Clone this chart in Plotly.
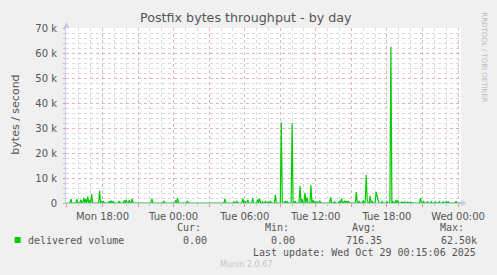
import pandas as pd
import plotly.graph_objects as go

# ---------------- data ----------------
range_start = "2025-10-27 14:55"
range_end = "2025-10-29 00:15"

spike_times = [
    "2025-10-27 15:20", "2025-10-27 15:50", "2025-10-27 16:10", "2025-10-27 16:25",
    "2025-10-27 16:35", "2025-10-27 16:45", "2025-10-27 16:55", "2025-10-27 17:05",
    "2025-10-27 17:45", "2025-10-27 17:55", "2025-10-27 18:05", "2025-10-27 18:35",
    "2025-10-27 18:45", "2025-10-27 18:55", "2025-10-27 19:25", "2025-10-27 19:50",
    "2025-10-27 20:00", "2025-10-27 20:15", "2025-10-27 20:30", "2025-10-27 22:10",
    "2025-10-27 23:10", "2025-10-28 00:10", "2025-10-28 00:20", "2025-10-28 01:10",
    "2025-10-28 04:20", "2025-10-28 05:05", "2025-10-28 05:20", "2025-10-28 05:50",
    "2025-10-28 06:00", "2025-10-28 06:15", "2025-10-28 06:40", "2025-10-28 07:05",
    "2025-10-28 07:15", "2025-10-28 07:30", "2025-10-28 07:45", "2025-10-28 08:00",
    "2025-10-28 08:10", "2025-10-28 08:35", "2025-10-28 09:05", "2025-10-28 09:25",
    "2025-10-28 09:35", "2025-10-28 10:00", "2025-10-28 10:15", "2025-10-28 10:40",
    "2025-10-28 10:50", "2025-10-28 11:05", "2025-10-28 11:15", "2025-10-28 11:35",
    "2025-10-28 11:45", "2025-10-28 11:55", "2025-10-28 12:05", "2025-10-28 12:20",
    "2025-10-28 13:15", "2025-10-28 13:35", "2025-10-28 14:00", "2025-10-28 14:10",
    "2025-10-28 14:25", "2025-10-28 14:35", "2025-10-28 14:45", "2025-10-28 15:25",
    "2025-10-28 15:40", "2025-10-28 16:00", "2025-10-28 16:15", "2025-10-28 16:20",
    "2025-10-28 16:35", "2025-10-28 16:45", "2025-10-28 17:05", "2025-10-28 17:10",
    "2025-10-28 17:15", "2025-10-28 17:35", "2025-10-28 18:00", "2025-10-28 18:20",
    "2025-10-28 18:30", "2025-10-28 18:45", "2025-10-28 18:55", "2025-10-28 19:15",
    "2025-10-28 19:30", "2025-10-28 19:45", "2025-10-28 20:00", "2025-10-28 20:50",
    "2025-10-28 21:05", "2025-10-28 21:25", "2025-10-28 21:45", "2025-10-28 22:05",
    "2025-10-28 22:25", "2025-10-28 22:45", "2025-10-28 23:00", "2025-10-28 23:10",
    "2025-10-28 23:50",
]
spike_kbytes = [
    1.6, 1.5, 1.3, 2.1,
    1.5, 2.6, 1.0, 3.5,
    4.9, 0.8, 0.6, 0.8,
    0.9, 0.6, 0.8, 1.0,
    1.3, 1.1, 1.6, 1.6,
    0.8, 1.0, 2.0, 0.8,
    1.6, 0.5, 0.8, 1.7,
    0.9, 1.2, 1.9, 1.4,
    1.7, 0.5, 0.8, 0.5,
    0.8, 3.3, 32.3, 0.8,
    0.6, 32.0, 0.8, 6.8,
    1.5, 4.1, 2.3, 7.1,
    1.2, 0.6, 0.5, 0.9,
    2.3, 0.5, 0.8, 1.7,
    0.9, 0.8, 0.8, 4.4,
    0.8, 1.0, 11.2, 1.0,
    2.8, 0.8, 4.4, 1.9,
    1.2, 0.6, 0.6, 62.5,
    0.6, 1.2, 1.0, 0.4,
    0.5, 0.4, 0.4, 2.1,
    0.8, 0.5, 0.6, 0.5,
    0.6, 0.5, 0.6, 0.5,
    0.7,
]

x_tickvals = [
    "2025-10-27 15:00", "2025-10-27 18:00", "2025-10-27 21:00", "2025-10-28 00:00",
    "2025-10-28 03:00", "2025-10-28 06:00", "2025-10-28 09:00", "2025-10-28 12:00",
    "2025-10-28 15:00", "2025-10-28 18:00", "2025-10-28 21:00", "2025-10-29 00:00",
]
x_ticktext = ["", "Mon 18:00", "", "Tue 00:00", "", "Tue 06:00", "",
              "Tue 12:00", "", "Tue 18:00", "", "Wed 00:00"]
y_tickvals = [0, 10000, 20000, 30000, 40000, 50000, 60000, 70000]
y_ticktext = ["0", "10 k", "20 k", "30 k", "40 k", "50 k", "60 k", "70 k"]

series_name = "delivered volume"
stat_labels = ["Cur:", "Min:", "Avg:", "Max:"]
stat_values = ["0.00", "0.00", "716.35", "62.50k"]
last_update = "Last update: Wed Oct 29 00:15:06 2025"
title_text = "Postfix bytes throughput - by day"

# ---------------- build series ----------------
grid = pd.date_range(range_start, range_end, freq="5min")
vals = pd.Series(0.0, index=grid)
for t, v in zip(spike_times, spike_kbytes):
    vals[pd.Timestamp(t)] = v * 1000.0

W, H = 497, 275
L, R, T, B = 66, 466, 28, 203   # plot area in pixels


def px(x):
    return (x - L) / (R - L)


def py(y):
    return (B - y) / (B - T)


fig = go.Figure()
fig.add_trace(go.Scatter(
    x=vals.index, y=vals.values, mode="lines",
    line=dict(color="#00CC00", width=1.2), hoverinfo="skip", showlegend=False,
))

grid_major = "rgba(235,150,150,0.55)"
grid_minor = "rgba(205,205,205,0.75)"
axis_col = "#C8C8F0"
txt_col = "#555555"

fig.update_layout(
    width=W, height=H,
    margin=dict(l=L, r=W - R, t=T, b=H - B, pad=0),
    paper_bgcolor="#F0F0F0", plot_bgcolor="#FFFFFF",
    font=dict(family="DejaVu Sans", size=10, color=txt_col),
    showlegend=False,
    xaxis=dict(
        type="date", range=[range_start, range_end],
        tickvals=x_tickvals, ticktext=x_ticktext,
        showgrid=True, gridcolor=grid_major, griddash="dot", gridwidth=1,
        ticks="outside", ticklen=3, tickcolor="#E89090",
        showline=True, linecolor=axis_col, linewidth=1,
        zeroline=False, tickfont=dict(size=10, color=txt_col),
        ticklabelstandoff=1,
        minor=dict(dtick=3600000, showgrid=True, gridcolor=grid_minor,
                   griddash="dot", gridwidth=1, ticks="outside", ticklen=2,
                   tickcolor="#C8C8C8"),
        fixedrange=True,
    ),
    yaxis=dict(
        range=[0, 70000],
        tickvals=y_tickvals, ticktext=y_ticktext,
        showgrid=True, gridcolor=grid_major, griddash="dot", gridwidth=1,
        ticks="outside", ticklen=2, tickcolor="#E89090",
        showline=True, linecolor=axis_col, linewidth=1,
        zeroline=False, tickfont=dict(size=10, color=txt_col),
        ticklabelstandoff=4,
        minor=dict(dtick=2000, showgrid=True, gridcolor=grid_minor,
                   griddash="dot", gridwidth=1, ticks="outside", ticklen=2,
                   tickcolor="#C8C8C8"),
        fixedrange=True,
    ),
)

ann = []
# title
ann.append(dict(text=title_text, x=px(248.5), y=py(18), xref="paper", yref="paper",
                xanchor="center", yanchor="middle", showarrow=False,
                font=dict(family="DejaVu Sans", size=12.7, color=txt_col)))
# y axis title
ann.append(dict(text="bytes / second", x=px(14), y=py(115), xref="paper", yref="paper",
                xanchor="center", yanchor="middle", showarrow=False, textangle=-90,
                font=dict(family="DejaVu Sans", size=11, color=txt_col)))
# rrdtool watermark
ann.append(dict(text="RRDTOOL / TOBI OETIKER", x=px(489), y=py(57), xref="paper",
                yref="paper", xanchor="center", yanchor="middle", showarrow=False,
                textangle=90, font=dict(family="DejaVu Sans", size=7, color="#BBBBBB")))
mono = "DejaVu Sans Mono"
ann.append(dict(text=series_name, x=px(25), y=py(240), xref="paper", yref="paper",
                xanchor="left", yanchor="middle", showarrow=False,
                font=dict(family=mono, size=10, color=txt_col)))
label_right = [205, 294, 382, 471]
value_right = [211, 300, 388, 484]
for lab, val, lr, vr in zip(stat_labels, stat_values, label_right, value_right):
    ann.append(dict(text=lab, x=px(lr), y=py(227), xref="paper", yref="paper",
                    xanchor="right", yanchor="middle", showarrow=False,
                    font=dict(family=mono, size=10, color=txt_col)))
    ann.append(dict(text=val, x=px(vr), y=py(240), xref="paper", yref="paper",
                    xanchor="right", yanchor="middle", showarrow=False,
                    font=dict(family=mono, size=10, color=txt_col)))
ann.append(dict(text=last_update, x=px(483), y=py(252), xref="paper", yref="paper",
                xanchor="right", yanchor="middle", showarrow=False,
                font=dict(family=mono, size=10, color=txt_col)))
ann.append(dict(text="Munin 2.0.67", x=px(248), y=py(264), xref="paper", yref="paper",
                xanchor="center", yanchor="middle", showarrow=False,
                font=dict(family="DejaVu Sans", size=8, color="#C4C4C4")))
fig.update_layout(annotations=ann)

shapes = []
# legend colour box
shapes.append(dict(type="rect", xref="paper", yref="paper",
                   x0=px(14), x1=px(20), y0=py(237), y1=py(243),
                   fillcolor="#00CC00", line=dict(width=0)))
# axis arrows
shapes.append(dict(type="path", xref="paper", yref="paper",
                   path=f"M {px(63.5)} {py(28)} L {px(69.5)} {py(28)} L {px(66.5)} {py(22)} Z",
                   fillcolor=axis_col, line=dict(width=0)))
shapes.append(dict(type="path", xref="paper", yref="paper",
                   path=f"M {px(466)} {py(200)} L {px(466)} {py(206)} L {px(472)} {py(203)} Z",
                   fillcolor=axis_col, line=dict(width=0)))
fig.update_layout(shapes=shapes)

fig.write_html("out.html")
